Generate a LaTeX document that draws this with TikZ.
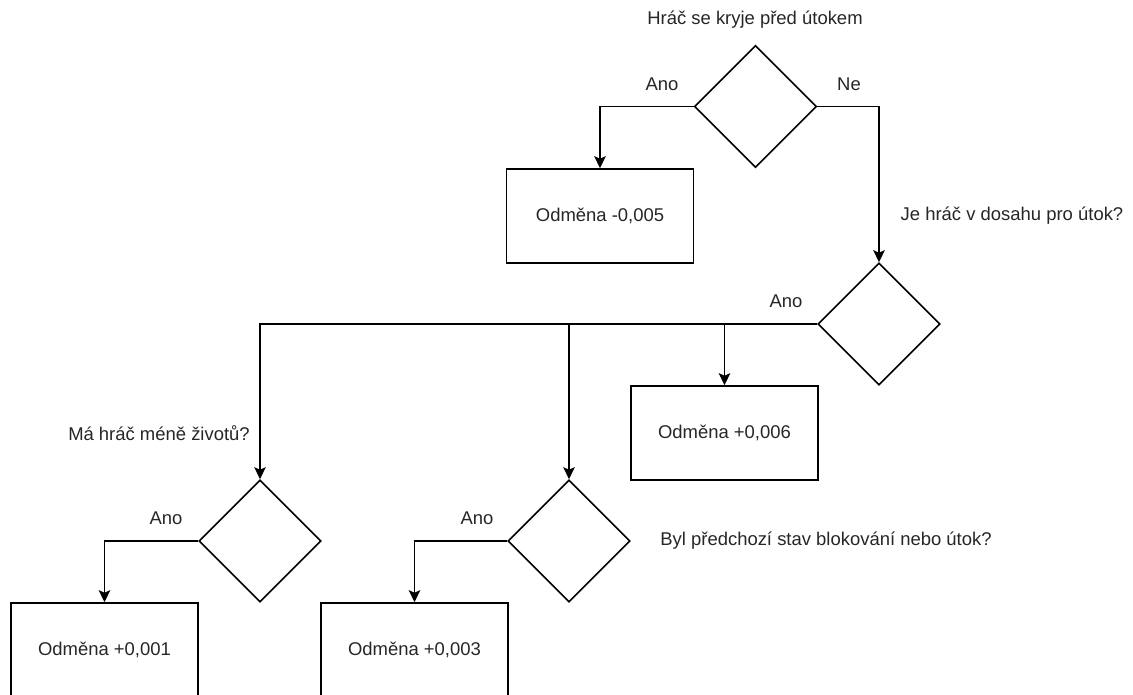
\documentclass[tikz,border=0pt]{standalone}
\usepackage{fontspec}
\setmainfont{Liberation Sans}
\usetikzlibrary{shapes.geometric,arrows.meta}
\begin{document}
\begin{tikzpicture}[x=0.02cm,y=-0.02cm,font=\fontsize{10.5}{12}\selectfont,text=black!85,
box/.style={draw=black,line width=0.9pt,minimum width=3.74cm,minimum height=1.88cm,inner sep=0},
dec/.style={diamond,draw=black,line width=0.9pt,minimum width=2.44cm,minimum height=2.44cm,inner sep=0},
arr/.style={-{Stealth[length=2.4mm,width=2.3mm,inset=0.5mm]},line width=0.9pt}]
\useasboundingbox(0,0)rectangle(1133,695);
\node[dec](q1)at(755.5,106.5){};\node[dec](q2)at(879,324){};
\node[dec](q3)at(260,541){};\node[dec](q4)at(569,541){};
\node[box](r1)at(600,216){Odměna -0,005};\node[box](r2)at(724.5,433){Odměna +0,006};
\node[box](r3)at(104.5,650){Odměna +0,001};\node[box](r4)at(414.5,650){Odměna +0,003};
\draw[arr](q1.west)-|(r1.north);\draw[arr](q1.east)-|(q2.north);
\draw[arr](q2.west)-|(r2.north);\draw[arr](q2.west)-|(q4.north);\draw[arr](q2.west)-|(q3.north);
\draw[arr](q3.west)-|(r3.north);\draw[arr](q4.west)-|(r4.north);
\node(t1)at(755,20){Hráč se kryje před útokem};\node(a1)at(662,84){Ano};\node(n1)at(849,84){Ne};
\node(t2)at(1012,216){Je hráč v dosahu pro útok?};\node(a2)at(786,301){Ano};
\node(t3)at(159,433){Má hráč méně životů?};\node(a3)at(166,518){Ano};
\node(t4)at(826,541){Byl předchozí stav blokování nebo útok?};\node(a4)at(477,518){Ano};
\end{tikzpicture}
\end{document}
